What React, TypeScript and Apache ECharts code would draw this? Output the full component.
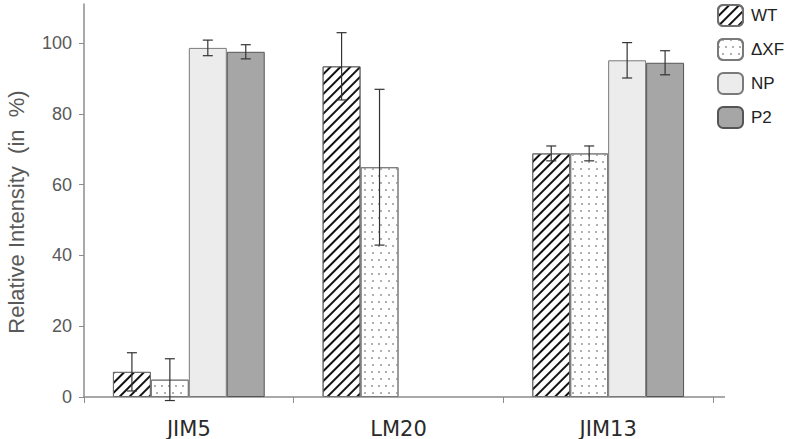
import React, { useEffect, useRef } from "react";
import * as echarts from "echarts";

const categories = ["JIM5", "LM20", "JIM13"];
const seriesNames = ["WT", "ΔXF", "NP", "P2"];
const wtValues = [7.1, 93.4, 68.8];
const wtErrors = [5.4, 9.5, 2.1];
const dxfValues = [4.9, 64.9, 68.8];
const dxfErrors = [5.9, 22, 2.1];
const npValues: (number | null)[] = [98.6, null, 95.1];
const npErrors: (number | null)[] = [2.2, null, 5.0];
const p2Values: (number | null)[] = [97.5, null, 94.4];
const p2Errors: (number | null)[] = [2.0, null, 3.4];
const yTicks = [0, 20, 40, 60, 80, 100];
const yTitle = "Relative Intensity  (in  %)";

const GAP = 0.276;

export default function App() {
  const ref = useRef<HTMLDivElement>(null);
  useEffect(() => {
    if (!ref.current) return;
    const chart = echarts.init(ref.current, undefined, { renderer: "svg" });
    const values = [wtValues, dxfValues, npValues, p2Values];
    const errors = [wtErrors, dxfErrors, npErrors, p2Errors];
    const errData: any[] = [];
    values.forEach((arr, s) => {
      arr.forEach((v, c) => {
        const e = errors[s][c];
        if (v != null && e != null) errData.push([c, v, e, s]);
      });
    });

    const styles: any[] = [
      {
        color: "#ffffff",
        borderColor: "#6e6e6e",
        borderWidth: 1,
        decal: {
          symbol: "rect",
          symbolSize: 1,
          dashArrayX: [1, 0],
          dashArrayY: [2, 4.6],
          rotation: -Math.PI / 4,
          color: "#111111",
        },
      },
      {
        color: "#ffffff",
        borderColor: "#7a7a7a",
        borderWidth: 1,
        decal: {
          symbol: "rect",
          symbolSize: 1,
          dashArrayX: [[1.2, 5], [0, 3.1, 1.2, 1.9]],
          dashArrayY: [1.2, 4.8],
          rotation: 0,
          color: "#b0b0b0",
        },
      },
      { color: "#ececec", borderColor: "#7a7a7a", borderWidth: 1 },
      { color: "#a6a6a6", borderColor: "#555555", borderWidth: 1 },
    ];

    const barSeries = seriesNames.map((name, i) => ({
      name,
      type: "bar",
      data: values[i],
      barGap: 0,
      barCategoryGap: GAP * 100 + "%",
      itemStyle: styles[i],
      emphasis: { disabled: true },
    }));

    chart.setOption({
      animation: false,
      grid: { left: 84, right: 78, top: 4, bottom: 42, containLabel: false },
      legend: {
        orient: "vertical",
        left: 717,
        top: 4,
        padding: 0,
        itemWidth: 25,
        itemHeight: 21,
        itemGap: 11,
        data: seriesNames,
        textStyle: { fontSize: 17, color: "#222", fontFamily: "Liberation Sans", padding: [0, 0, 0, 3] },
        selectedMode: false,
      },
      xAxis: {
        type: "category",
        data: categories,
        axisLine: { lineStyle: { color: "#8c8c8c", width: 1.5 } },
        axisTick: { show: true, length: 6, lineStyle: { color: "#8c8c8c" } },
        axisLabel: {
          fontSize: 21,
          color: "#2a2a2a",
          margin: 21,
          fontFamily: "DejaVu Sans",
        },
      },
      yAxis: {
        type: "value",
        min: 0,
        max: 111,
        splitLine: { show: false },
        axisLine: { show: true, lineStyle: { color: "#8c8c8c", width: 1.5 } },
        axisTick: { show: true, length: 5, customValues: yTicks, lineStyle: { color: "#8c8c8c" } },
        axisLabel: {
          customValues: yTicks,
          fontSize: 18,
          color: "#595959",
          margin: 12,
          fontFamily: "Liberation Sans",
        },
      },
      graphic: [
        {
          type: "line",
          shape: { x1: 713, y1: 397, x2: 725, y2: 397 },
          style: { stroke: "#8c8c8c", lineWidth: 1.5 },
        },
        {
          type: "text",
          x: 16,
          y: 212,
          rotation: Math.PI / 2,
          style: {
            text: yTitle,
            fontSize: 22,
            fill: "#595959",
            fontFamily: "Liberation Sans",
            align: "center",
            verticalAlign: "middle",
          },
        },
      ],
      series: [
        ...barSeries,
        {
          type: "custom",
          name: "err",
          data: errData,
          z: 10,
          renderItem: (params: any, api: any) => {
            const c = api.value(0);
            const v = api.value(1);
            const e = api.value(2);
            const s = api.value(3);
            const band = api.size([1, 0])[0];
            const barW = (band * (1 - GAP)) / 4;
            const base = api.coord([c, v]);
            const cx = base[0] + (s - 1.5) * barW;
            const yt = api.coord([c, v + e])[1];
            const yb = api.coord([c, v - e])[1];
            const hw = 5;
            const st = { stroke: "#333", lineWidth: 1.2 };
            return {
              type: "group",
              children: [
                { type: "line", shape: { x1: cx, y1: yt, x2: cx, y2: yb }, style: st },
                { type: "line", shape: { x1: cx - hw, y1: yt, x2: cx + hw, y2: yt }, style: st },
                { type: "line", shape: { x1: cx - hw, y1: yb, x2: cx + hw, y2: yb }, style: st },
              ],
            };
          },
        },
      ],
    });
    return () => chart.dispose();
  }, []);
  return (
    <div
      ref={ref}
      style={{ position: "fixed", left: 0, top: 0, width: 791, height: 439, background: "#fff" }}
    />
  );
}
